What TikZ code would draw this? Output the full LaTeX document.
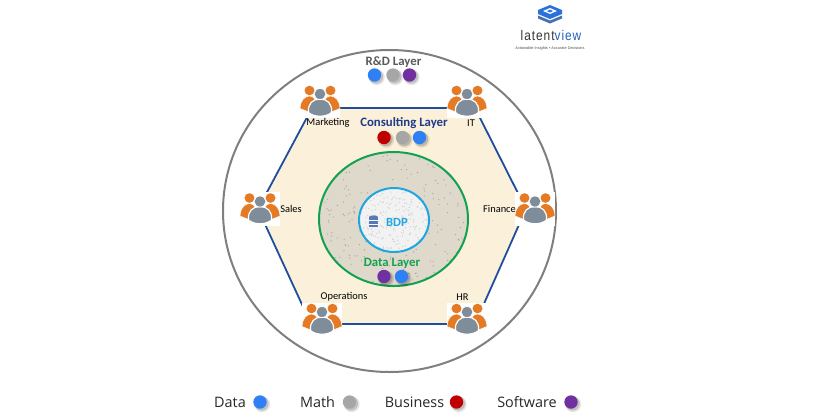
\documentclass[tikz,border=0pt]{standalone}
\usepackage{fontspec}
\setmainfont{Carlito}
\newfontfamily\legendfont{Open Sans}
\newfontfamily\logofont{Liberation Sans}
\definecolor{cdata}{HTML}{2F80F5}
\definecolor{cmath}{HTML}{A6A6A6}
\definecolor{cbiz}{HTML}{C00000}
\definecolor{csoft}{HTML}{7030A0}
\definecolor{hexline}{HTML}{1F4E9E}
\definecolor{hexfill}{HTML}{FBF0DA}
\definecolor{ringfill}{HTML}{DFD9CC}
\definecolor{ringgreen}{HTML}{12A150}
\definecolor{corecyan}{HTML}{1FA6E0}
\definecolor{outerg}{HTML}{7F7F7F}
\definecolor{iconor}{HTML}{E57A25}
\definecolor{icongr}{HTML}{7F8C99}
\definecolor{navy}{HTML}{1F3A8A}
\tikzset{
  x=0.75pt,y=-0.75pt,
  iconbox/.style={minimum width=30pt,minimum height=25pt,inner sep=0pt,fill=white},
  hexedge/.style={draw=hexline,line width=1.35pt},
  lbl/.style={font=\fontsize{7.8pt}{8pt}\selectfont,text=black,inner sep=0pt},
  layer/.style={font=\bfseries\fontsize{9.6pt}{10pt}\selectfont,inner sep=0pt},
  legendlbl/.style={font=\legendfont\fontsize{10.8pt}{12pt}\selectfont,text=black!85,inner sep=0pt},
  pics/person/.style={code={
    \foreach \sx in {-1,1}{
      \fill[iconor] (\sx*10.5,-11) circle[x radius=5,y radius=4.8];
      \fill[iconor,draw=white,line width=.4pt] (\sx*2.5,9) .. controls (\sx*4,-3) and (\sx*6,-5) .. (\sx*10.5,-5.5)
        .. controls (\sx*16,-5) and (\sx*19.5,-1) .. (\sx*20,7) -- (\sx*10,11) -- cycle;
    }
    \fill[icongr,draw=white,line width=.9pt] (-11.5,11) .. controls (-12.5,2) and (-7,-2.5) .. (0,-2.5)
       .. controls (7,-2.5) and (12.5,2) .. (11.5,11) .. controls (6,16) and (-6,16) .. (-11.5,11) -- cycle;
    \fill[icongr,draw=white,line width=.7pt] (0,-7.5) circle[x radius=6,y radius=5.6];
  }},
  pics/dot/.style={code={
    \fill[black,opacity=.10] (2.2,2.2) circle[radius=8];
    \fill[black,opacity=.16] (1.6,1.6) circle[radius=7];
    \fill[#1] (0,0) circle[radius=6.7];
  }},
}
\begin{document}
\begin{tikzpicture}
\useasboundingbox (0,0) rectangle (840,419);
\pgfmathsetseed{4242}
% outer ring
\draw[outerg,line width=1.5pt] (389.5,211) circle[x radius=166.5,y radius=161];
% hexagon vertices
\coordinate (vmkt) at (312,108);
\coordinate (vit)  at (475,108);
\coordinate (vfin) at (526,209);
\coordinate (vhr)  at (475,324);
\coordinate (vops) at (311,324);
\coordinate (vsal) at (258,209);
\fill[hexfill] (vmkt) -- (vit) -- (vfin) -- (vhr) -- (vops) -- (vsal) -- cycle;
% middle ring with speckle
\fill[ringfill] (393.5,219) circle[x radius=74.5,y radius=67];
\begin{scope}
\clip (393.5,219) circle[x radius=74.5,y radius=67];
\foreach \i in {1,...,260}{
  \pgfmathsetmacro{\px}{319+rnd*150}
  \pgfmathsetmacro{\py}{152+rnd*134}
  \fill[black!22!ringfill] (\px,\py) circle[radius=.7];
}
\end{scope}
\draw[ringgreen,line width=1.5pt] (393.5,219) circle[x radius=74.5,y radius=67];
% core
\fill[white!95!black] (394,220) circle[x radius=35,y radius=32];
\begin{scope}
\clip (394,220) circle[x radius=35,y radius=32];
\foreach \i in {1,...,260}{
  \pgfmathsetmacro{\px}{359+rnd*70}
  \pgfmathsetmacro{\py}{188+rnd*64}
  \fill[black!18] (\px,\py) circle[radius=.7];
}
\end{scope}
\draw[corecyan,line width=1.5pt] (394,220) circle[x radius=35,y radius=32];
% database glyph
\fill[hexline!75!white] (369,217) rectangle (378,227);
\fill[hexline!75!white] (373.5,217) circle[x radius=4.5,y radius=1.6];
\draw[white,line width=.3pt] (369,220.5) -- (378,220.5) (369,223.8) -- (378,223.8);
\node[font=\bfseries\fontsize{9.4pt}{10pt}\selectfont,text=corecyan,inner sep=0pt] (bdp) at (397,222.5) {BDP};
% hexagon edges
\draw[hexedge] (vmkt) -- (vit);
\draw[hexedge] (vit) -- (vfin);
\draw[hexedge] (vfin) -- (vhr);
\draw[hexedge] (vhr) -- (vops);
\draw[hexedge] (vops) -- (vsal);
\draw[hexedge] (vsal) -- (vmkt);
% icons
\node[iconbox] (mkt) at (320,101.5) {};
\node[iconbox] (it)  at (467,101.5) {};
\node[iconbox] (fin) at (535,209) {};
\node[iconbox] (hr)  at (467,319.5) {};
\node[iconbox] (ops) at (322,319.5) {};
\node[iconbox] (sal) at (260,209) {};
\foreach \c in {mkt,it,fin,hr,ops,sal} \pic at (\c) {person};
% icon labels
\node[lbl] (lmkt) at (328,123) {Marketing};
\node[lbl] (lit)  at (471,123.5) {IT};
\node[lbl] (lfin) at (499.5,209) {Finance};
\node[lbl] (lhr)  at (462.5,297) {HR};
\node[lbl] (lops) at (344,297) {Operations};
\node[lbl] (lsal) at (291,209) {Sales};
% layers
\node[layer,text=black!65] (rd) at (393.5,62.5) {R\&D Layer};
\pic at (374.5,75) {dot=cdata};
\pic at (393,75) {dot=cmath};
\pic at (409.5,75) {dot=csoft};
\node[layer,text=navy] (cons) at (404,123) {Consulting Layer};
\pic at (384,137.5) {dot=cbiz};
\pic at (402.5,137.5) {dot=cmath};
\pic at (419.5,137.5) {dot=cdata};
\node[layer,text=ringgreen] (dl) at (392,263.5) {Data Layer};
\pic at (384,276.5) {dot=csoft};
\pic at (401.5,276.5) {dot=cdata};
% legend
\node[legendlbl] (ldata) at (230,402) {Data};
\pic at (260,402) {dot=cdata};
\node[legendlbl] (lmath) at (317.5,402) {Math};
\pic at (349.5,402) {dot=cmath};
\node[legendlbl] (lbiz) at (414.5,402) {Business};
\pic at (456.5,402) {dot=cbiz};
\node[legendlbl] (lsoft) at (527,402) {Software};
\pic at (571,402) {dot=csoft};
% logo
\fill[cdata!70!hexline] (550,5) -- (538,10) -- (538,14) -- (550,19) -- (562,14) -- (562,10) -- cycle;
\fill[white] (550,8) -- (543,11) -- (550,14) -- (557,11) -- cycle;
\fill[cdata!80!hexline] (550,9.5) -- (547,11) -- (550,12.5) -- (553,11) -- cycle;
\fill[hexline!80!white] (538,15.5) -- (550,20.5) -- (562,15.5) -- (562,18.5) -- (550,23.5) -- (538,18.5) -- cycle;
\node[inner sep=0pt,font=\logofont\fontsize{10.5pt}{11pt}\selectfont,xscale=.85] (logo) at (551,35)
  {\addfontfeature{LetterSpace=8}\textcolor{black!80}{latent}\textcolor{cdata!75!black}{view}};
\node[inner sep=0pt,font=\logofont\fontsize{2.9pt}{3pt}\selectfont,text=black!70] (tag) at (550,48)
  {Actionable Insights • Accurate Decisions};
\end{tikzpicture}
\end{document}
